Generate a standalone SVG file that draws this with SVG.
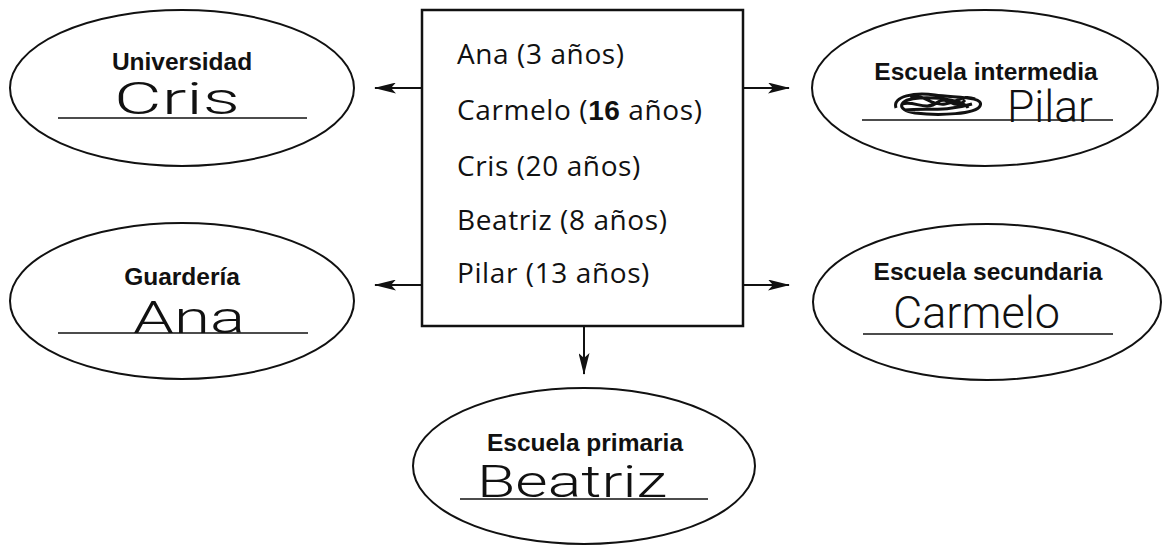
<svg xmlns="http://www.w3.org/2000/svg" width="1164" height="546" viewBox="0 0 1164 546">
<style>
.ell{fill:none;stroke:#111;stroke-width:2}
.lbl{font-family:"Liberation Sans",Arial,sans-serif;font-weight:bold;font-size:24.5px;fill:#111;text-anchor:middle}
.hand{font-family:Roboto,"Liberation Sans",sans-serif;font-weight:300;font-size:44px;fill:#111}
.ul{stroke:#111;stroke-width:1.6}
.box{fill:none;stroke:#111;stroke-width:2.5}
.item{font-family:"Open Sans","Liberation Sans",sans-serif;font-size:28px;letter-spacing:0.6px;fill:#111}
.conn{stroke:#111;stroke-width:2;fill:none;marker-end:url(#ah)}
</style>
<defs>
<marker id="ah" viewBox="0 0 22 11" refX="21" refY="5.5" markerWidth="22" markerHeight="11" markerUnits="userSpaceOnUse" orient="auto">
<path d="M0,0 L22,5.5 L0,11 L5,5.5 z" fill="#111"/>
</marker>
</defs>
<rect width="1164" height="546" fill="#fff"/>
<g id="connectors">
<line class="conn" x1="422" y1="88" x2="375" y2="88"/>
<line class="conn" x1="422" y1="285" x2="375" y2="285"/>
<line class="conn" x1="743" y1="88" x2="789" y2="88"/>
<line class="conn" x1="743" y1="285" x2="789" y2="285"/>
<line class="conn" x1="584" y1="326" x2="584" y2="374"/>
</g>
<g id="center-box">
<rect class="box" x="422" y="10" width="321" height="316"/>
<text class="item" x="457" y="64">Ana (3 años)</text>
<text class="item" x="457" y="120">Carmelo (<tspan font-family="Liberation Sans" font-weight="bold">16</tspan> años)</text>
<text class="item" x="457" y="176">Cris (20 años)</text>
<text class="item" x="457" y="230">Beatriz (8 años)</text>
<text class="item" x="457" y="283">Pilar (13 años)</text>
</g>
<g id="universidad">
<ellipse class="ell" cx="182" cy="88" rx="172" ry="78"/>
<text class="lbl" x="182" y="70">Universidad</text>
<text class="hand" x="114" y="114" textLength="126" lengthAdjust="spacingAndGlyphs">Cris</text>
<line class="ul" x1="58" y1="118" x2="307" y2="118"/>
</g>
<g id="guarderia">
<ellipse class="ell" cx="182" cy="301" rx="172" ry="78"/>
<text class="lbl" x="182" y="285">Guardería</text>
<text class="hand" x="133" y="333" textLength="112" lengthAdjust="spacingAndGlyphs">Ana</text>
<line class="ul" x1="58" y1="333" x2="308" y2="333"/>
</g>
<g id="escuela-intermedia">
<ellipse class="ell" cx="985" cy="88" rx="173" ry="78"/>
<text class="lbl" x="986" y="80">Escuela intermedia</text>
<path d="M896,108 C892,96 915,92 935,95 C955,98 985,96 980,106 C976,114 940,116 915,113 C895,110 898,99 920,98 C940,97 965,101 968,108 M902,104 C915,100 925,112 938,102 C948,95 955,112 965,100 M910,96 C925,94 930,106 945,104 C960,102 962,94 975,99 M905,110 C925,108 945,112 972,104" fill="none" stroke="#111" stroke-width="3"/>
<text class="hand" x="1007" y="122" font-size="34" textLength="86" lengthAdjust="spacingAndGlyphs">Pilar</text>
<line class="ul" x1="862" y1="120" x2="1113" y2="120"/>
</g>
<g id="escuela-secundaria">
<ellipse class="ell" cx="987" cy="302" rx="174" ry="78"/>
<text class="lbl" x="988" y="280">Escuela secundaria</text>
<text class="hand" x="893" y="328" font-size="29" textLength="167" lengthAdjust="spacingAndGlyphs">Carmelo</text>
<line class="ul" x1="863" y1="334" x2="1113" y2="334"/>
</g>
<g id="escuela-primaria">
<ellipse class="ell" cx="584" cy="466" rx="171" ry="78"/>
<text class="lbl" x="585" y="451">Escuela primaria</text>
<text class="hand" x="477" y="497" textLength="190" lengthAdjust="spacingAndGlyphs">Beatriz</text>
<line class="ul" x1="460" y1="499" x2="708" y2="499"/>
</g>
</svg>
